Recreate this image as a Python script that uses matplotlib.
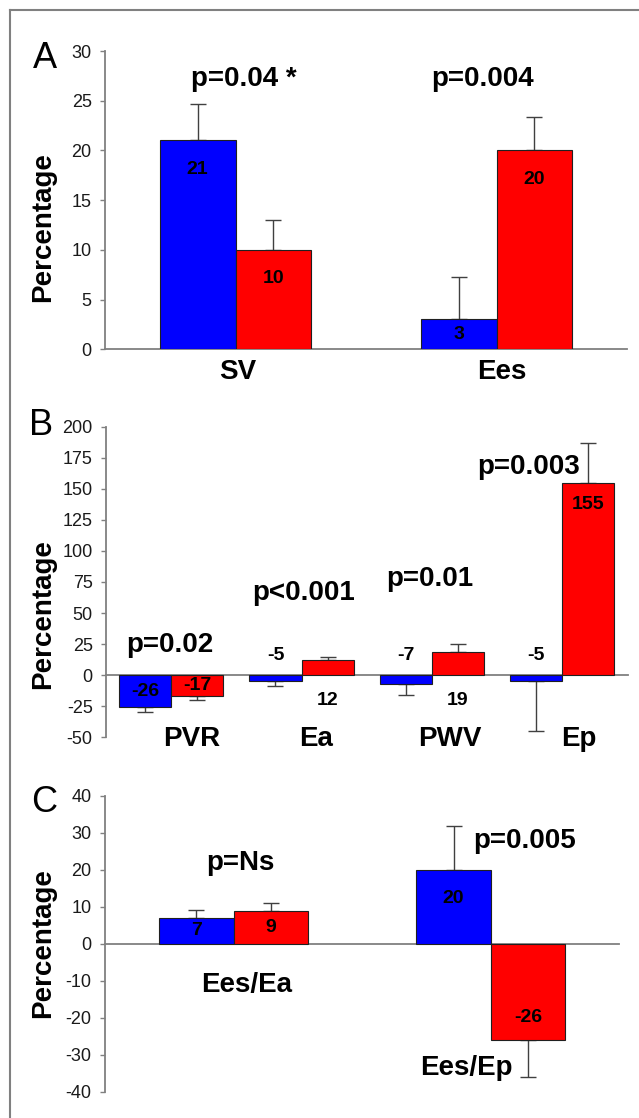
import numpy as np
import matplotlib.pyplot as plt
from matplotlib.lines import Line2D

plt.rcParams['font.family'] = ['Liberation Sans', 'DejaVu Sans']
plt.rcParams['axes.unicode_minus'] = False

# panel A
a_cats = ['SV', 'Ees']
a_blue = [21, 3]
a_red = [10, 20]
a_blue_err = [3.7, 4.3]
a_red_err = [3.0, 3.4]
a_pvals = ['p=0.04 *', 'p=0.004']

# panel B
b_cats = ['PVR', 'Ea', 'PWV', 'Ep']
b_blue = [-26, -5, -7, -5]
b_red = [-17, 12, 19, 155]
b_blue_err = [4, 4, 9, 40]
b_red_err = [3, 2.4, 6, 32]
b_pvals = ['p=0.02', 'p<0.001', 'p=0.01', 'p=0.003']

# panel C
c_cats = ['Ees/Ea', 'Ees/Ep']
c_blue = [7, 20]
c_red = [9, -26]
c_blue_err = [2.2, 12]
c_red_err = [2.0, 10]
c_pvals = ['p=Ns', 'p=0.005']

W, H = 639, 1118
BLUE = '#0000ff'
RED = '#ff0000'
GRAY = '#808080'


def rect_px(left, top, right, bottom):
    # pixel box -> figure fraction
    return [left / W, 1 - bottom / H, (right - left) / W, (bottom - top) / H]


def one_sided(vals, errs):
    lo = [e if v < 0 else 0 for v, e in zip(vals, errs)]
    hi = [e if v >= 0 else 0 for v, e in zip(vals, errs)]
    return [lo, hi]


def panel(fig, rect, ylim, yticks, blue, red, berr, rerr, width):
    ax = fig.add_axes(rect)
    x = np.arange(len(blue)) + 0.5
    xb = x - width / 2
    xr = x + width / 2
    ax.bar(xb, blue, width, color=BLUE, edgecolor='#202020', lw=0.8, zorder=2)
    ax.bar(xr, red, width, color=RED, edgecolor='#202020', lw=0.8, zorder=2)
    ax.errorbar(xb, blue, yerr=one_sided(blue, berr), fmt='none', ecolor='#404040',
                elinewidth=1, capsize=6, capthick=1, zorder=1)
    ax.errorbar(xr, red, yerr=one_sided(red, rerr), fmt='none', ecolor='#404040',
                elinewidth=1, capsize=6, capthick=1, zorder=1)
    ax.set_xlim(0, len(blue))
    ax.set_ylim(*ylim)
    ax.set_yticks(yticks)
    ax.set_xticks([])
    for s in ['top', 'right']:
        ax.spines[s].set_visible(False)
    ax.spines['left'].set_color(GRAY)
    ax.spines['bottom'].set_color(GRAY)
    ax.spines['left'].set_linewidth(1.3)
    ax.spines['bottom'].set_linewidth(1.3)
    ax.spines['bottom'].set_position(('data', 0))
    ax.spines['bottom'].set_zorder(0)
    ax.tick_params(axis='y', direction='out', length=3.6, width=1, color=GRAY,
                   labelsize=13, pad=6, labelcolor='#1a1a1a')
    ax.patch.set_alpha(0)
    return ax, xb, xr


def value_labels(ax, xs, vals, modes, gap_pos, gap_neg):
    for x, v, m in zip(xs, vals, modes):
        if m == 'mid':
            xy, off = (x, v / 2), 0
        elif m == 'end':
            xy, off = (x, v), (-gap_pos if v > 0 else gap_neg)
        elif m == 'above0':
            xy, off = (x, 0), 20
        else:
            xy, off = (x, 0), -25
        ax.annotate(str(v), xy, xytext=(0, off * 0.72), textcoords='offset points',
                    ha='center', va='center', fontsize=14, fontweight='bold', zorder=5)


def texts(ax, labels, pos, size=20):
    for t, (x, y) in zip(labels, pos):
        ax.text(x, y, t, ha='center', va='center', fontsize=size,
                fontweight='bold', clip_on=False, zorder=5)


fig = plt.figure(figsize=(W / 100, H / 100), dpi=100)

# A
axA, xb, xr = panel(fig, rect_px(105, 51, 627, 349.3), (0, 30), range(0, 31, 5),
                    a_blue, a_red, a_blue_err, a_red_err, 0.29)
value_labels(axA, xb, a_blue, ['end', 'mid'], 29, 22)
value_labels(axA, xr, a_red, ['end', 'end'], 29, 22)
texts(axA, a_pvals, [(0.533, 27.2), (1.448, 27.2)])
texts(axA, a_cats, [(0.51, -2.3), (1.52, -2.3)])

# B
axB, xb, xr = panel(fig, rect_px(106, 426.7, 627.5, 737.3), (-50, 200), range(-50, 201, 25),
                    b_blue, b_red, b_blue_err, b_red_err, 0.40)
value_labels(axB, xb, b_blue, ['mid', 'above0', 'above0', 'above0'], 22, 22)
value_labels(axB, xr, b_red, ['mid', 'below0', 'below0', 'end'], 22, 22)
texts(axB, b_pvals, [(0.491, 24.3), (1.515, 65.9), (2.482, 77.2), (3.244, 167.8)])
texts(axB, b_cats, [(0.656, -51), (1.615, -51), (2.638, -51), (3.624, -51)])

# C
axC, xb, xr = panel(fig, rect_px(105, 796, 619.4, 1091.7), (-40, 40), range(-40, 41, 10),
                    c_blue, c_red, c_blue_err, c_red_err, 0.29)
value_labels(axC, xb, c_blue, ['mid', 'end'], 29, 22)
value_labels(axC, xr, c_red, ['mid', 'end'], 29, 22)
texts(axC, c_pvals, [(0.527, 21.9), (1.630, 27.8)])
texts(axC, c_cats, [(0.552, -11), (1.404, -33.7)])

# panel letters and y labels
for letter, (px, py) in zip('ABC', [(45, 58), (41.5, 426), (44, 803)]):
    fig.text(px / W, 1 - py / H, letter, ha='center', va='center', fontsize=26)
for py in [227, 614, 942.6]:
    fig.text(43 / W, 1 - py / H, 'Percentage', rotation=90, ha='center', va='center',
             fontsize=20, fontweight='bold')

# frame
fig.add_artist(Line2D([10 / W, 1], [1 - 10 / H, 1 - 10 / H], color=GRAY, lw=1.5))
fig.add_artist(Line2D([10 / W, 10 / W], [1 - 10 / H, 0], color=GRAY, lw=1.5))

fig.savefig('out.png', dpi=100)
